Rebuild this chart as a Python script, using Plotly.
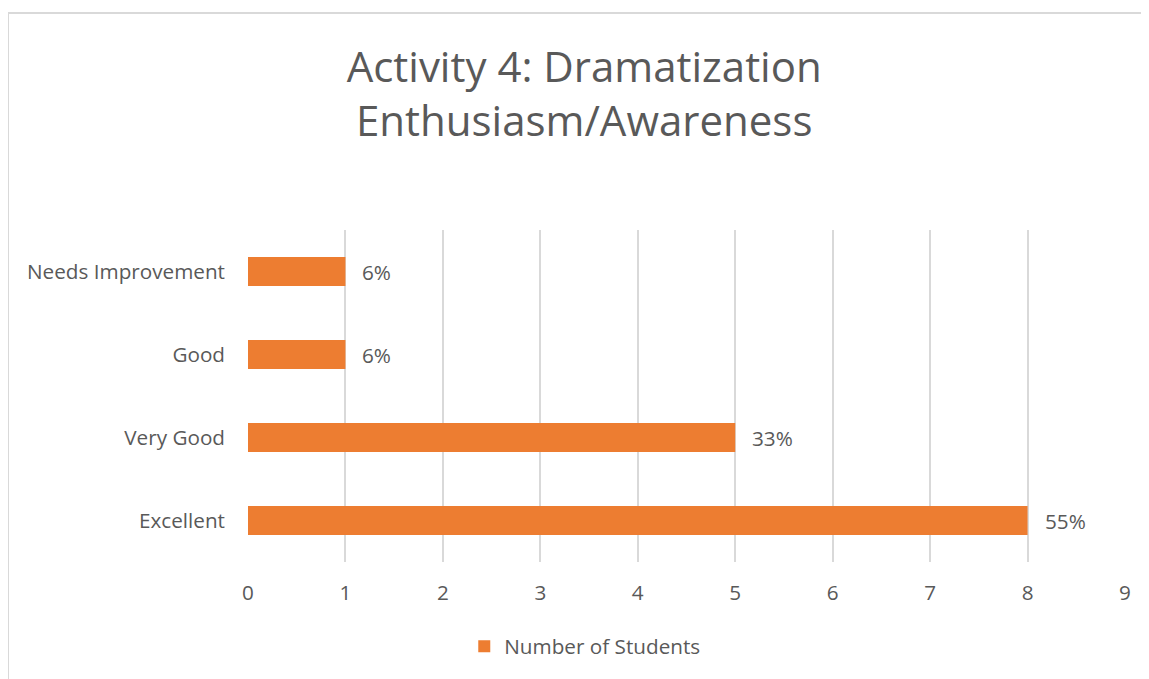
import plotly.graph_objects as go

# Chart data
categories = ["Excellent", "Very Good", "Good", "Needs Improvement"]
students = [8, 5, 1, 1]
pct_labels = ["55%", "33%", "6%", "6%"]
x_ticks = list(range(0, 10))

ORANGE = "#ED7D31"
TEXT = "#595959"
GRID = "#D9D9D9"
FONT = "Open Sans"
FS = 20.7

# page has an 8px body margin, so the figure is a bit smaller than the window
W, H = 1141, 671
L, R, T, B = 240, 24, 222, 117
pw, ph = W - L - R, H - T - B

fig = go.Figure()
fig.add_trace(
    go.Bar(
        y=categories,
        x=students,
        orientation="h",
        name="Number of Students",
        marker=dict(color=ORANGE, line=dict(width=0)),
        hoverinfo="x+y",
    )
)

# data labels to the right of each bar
for cat, val, lab in zip(categories, students, pct_labels):
    fig.add_annotation(
        x=val, y=cat, text=lab, showarrow=False,
        xanchor="left", xshift=15,
        font=dict(family=FONT, size=FS, color=TEXT),
    )

# light chart border (top and left edges visible)
fig.add_shape(
    type="rect", xref="paper", yref="paper",
    x0=(0 - L) / pw, x1=(W + 10 - L) / pw,
    y0=-(B + 10) / ph, y1=(H - B - 5) / ph,
    line=dict(color=GRID, width=2), fillcolor="rgba(0,0,0,0)", layer="below",
)

fig.update_layout(
    width=W, height=H,
    margin=dict(l=L, r=R, t=T, b=B),
    paper_bgcolor="white", plot_bgcolor="white",
    title=dict(
        text="Activity 4: Dramatization<br>Enthusiasm/Awareness",
        x=0.505, xanchor="center", y=0.89, yanchor="middle",
        font=dict(family=FONT, size=42, color=TEXT),
    ),
    font=dict(family=FONT, size=FS, color=TEXT),
    bargap=0.65,
    showlegend=True,
    legend=dict(
        orientation="h", x=0.384, xanchor="center", y=-0.194, yanchor="top",
        font=dict(family=FONT, size=FS, color=TEXT),
    ),
    xaxis=dict(
        range=[0, 9], tickvals=x_ticks, showgrid=True, gridcolor=GRID, gridwidth=2,
        zeroline=False, showline=False, ticks="", ticklabelstandoff=16,
        fixedrange=True,
    ),
    yaxis=dict(
        showgrid=False, zeroline=False, showline=False, ticks="",
        ticklabelstandoff=22, fixedrange=True,
    ),
)

fig.write_html("out.html")
